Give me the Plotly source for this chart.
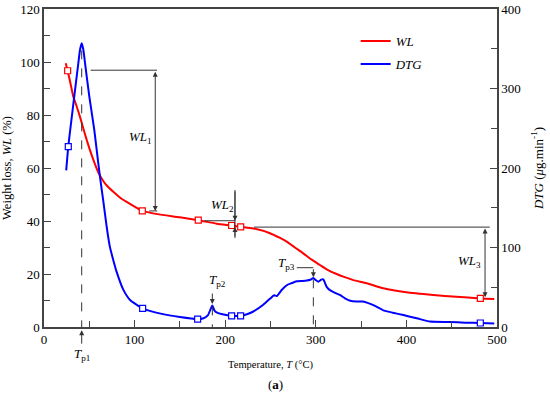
import plotly.graph_objects as go

# ---------------- data ----------------
wl_T = [24, 26.1, 29, 32.3, 36, 40, 45, 50, 55, 60, 65, 70, 76.5, 84, 91.3, 100,
        108.5, 125, 150, 170.3, 190.6, 207.1, 217.1, 231, 249.4, 260, 267.9, 277, 286.2,
        295, 304.6, 313, 323, 332, 341.4, 356.2, 374.5, 400, 429.7, 455, 481.6, 497]
wl_val = [99.5, 96.7, 92.3, 87, 83.3, 79, 73, 67.5, 62.6, 58.3, 55.3, 53.1, 51, 48.8, 47.2, 45.4,
          43.8, 42.6, 41.4, 40.3, 39.0, 38.3, 37.8, 37.2, 35.4, 33.7, 32.2, 30, 27.8,
          25.5, 23.4, 21.6, 20, 18.8, 17.7, 16.5, 14.6, 13.1, 12.1, 11.4, 10.8, 10.6]

dtg_T = [24.5, 26.8, 30, 33.4, 37.9, 39.8, 41.6, 43.4, 45.3, 50.0, 55.5, 59.9, 62.5, 65.5, 69.2,
         72.5, 76.5, 80, 87.5, 95, 108.9, 130, 150, 169.6, 176, 181, 185.8, 188, 191, 197,
         207.1, 217, 224, 231, 242, 251.3, 254, 257, 262.3, 267.9, 273, 278.9, 285, 290, 294,
         297.3, 300, 302.8, 306, 308.3, 312, 316, 321.2, 327, 332.2, 338, 345, 352, 358,
         363.5, 374.5, 385, 396.6, 411.4, 426, 448, 465, 481.6, 497]
dtg_val = [197, 227, 258, 290, 332, 349, 357, 349, 332, 290, 248, 206, 183, 158, 126,
           102, 84, 70, 47, 34, 23.5, 16.5, 12.5, 10, 11, 15, 27, 21, 18, 16,
           14, 14, 16, 19.5, 28, 37.5, 40, 39, 46.5, 52.5, 55, 57.5, 58, 58.5, 59.5,
           61.5, 59, 57, 59.5, 60, 50.5, 46, 43, 40, 36, 33, 32, 32, 30,
           27.5, 21, 18, 15, 11, 6.8, 6.3, 5.5, 5, 4.5]

wl_mark_T = [26.1, 108.5, 170.3, 207.1, 217.1, 481.6]
wl_mark_v = [96.7, 43.8, 40.3, 38.3, 37.8, 10.8]
dtg_mark_T = [26.8, 108.9, 169.6, 207.1, 217, 481.6]
dtg_mark_v = [227, 23.5, 10, 14, 14, 5]

x_ticks = [0, 100, 200, 300, 400, 500]
y_ticks = [0, 20, 40, 60, 80, 100, 120]
y2_ticks = [0, 100, 200, 300, 400]

RED = "#ff0000"
BLUE = "#0000ff"
AX = "#444444"
FONT = "Liberation Serif"

fig = go.Figure()
fig.add_trace(go.Scatter(x=wl_T, y=wl_val, mode="lines", name="<i>WL</i>", legendgroup="a",
                         line=dict(color=RED, width=2, shape="spline", smoothing=0.6)))
fig.add_trace(go.Scatter(x=dtg_T, y=dtg_val, mode="lines", name="<i>DTG</i>", yaxis="y2",
                         legendgroup="b",
                         line=dict(color=BLUE, width=2, shape="spline", smoothing=0.5)))
fig.add_trace(go.Scatter(x=wl_mark_T, y=wl_mark_v, mode="markers", showlegend=False,
                         marker=dict(symbol="square", size=6, color="white",
                                     line=dict(color=RED, width=1.2))))
fig.add_trace(go.Scatter(x=dtg_mark_T, y=dtg_mark_v, mode="markers", showlegend=False, yaxis="y2",
                         marker=dict(symbol="square", size=6, color="white",
                                     line=dict(color=BLUE, width=1.2))))

shapes = []
def seg(x0, y0, x1, y1, yref="y", dash="solid"):
    shapes.append(dict(type="line", xref="x", yref=yref, x0=x0, y0=y0, x1=x1, y1=y1,
                       line=dict(color="#333333", width=1, dash=dash)))

# Tp1 dashed
seg(41.6, 348, 41.6, 0, "y2", "dash")
# WL1
seg(51.5, 96.9, 124.7, 96.9)
seg(116, 43.8, 125, 43.8)
# WL2
seg(177, 40.1, 211, 40.1)
seg(210.8, 51.7, 210.8, 33.6)
# WL3
seg(231.8, 37.7, 492, 37.7)
# Tp2
seg(185.8, 26, 185.8, 0, "y2", "dash")
# Tp3
seg(279, 74.6, 297.3, 74.6, "y2")
seg(297.3, 60, 297.3, 0, "y2", "dash")

ann = []
def arrow(x, y, ax, ay, yref="y", both=False):
    d = dict(x=x, y=y, ax=ax, ay=ay, xref="x", yref=yref, axref="x", ayref=yref,
             text="", showarrow=True, arrowhead=2, arrowsize=1, arrowwidth=1,
             arrowcolor="#333333", standoff=0, startstandoff=0)
    if both:
        d["arrowside"] = "end+start"
        d["startarrowhead"] = 2
        d["startarrowsize"] = 1
    ann.append(d)

def label(x, y, text, yref="y", xref="x", size=13):
    ann.append(dict(x=x, y=y, xref=xref, yref=yref, text=text, showarrow=False,
                    font=dict(family=FONT, size=size, color="black"),
                    xanchor="center", yanchor="middle"))

arrow(122.8, 43.8, 122.8, 96.9, both=True)
arrow(210.8, 40.1, 210.8, 51.7)
arrow(210.8, 37.7, 210.8, 33.6)
arrow(486.8, 11.2, 486.8, 37.7, both=True)
arrow(185.8, 29, 185.8, 44, "y2")
arrow(297.3, 62.5, 297.3, 74.6, "y2")
# Tp1 arrow below axis
ann.append(dict(x=41.6, y=-0.01, xref="x", yref="paper", ax=0, ay=15, axref="pixel",
                ayref="pixel", text="", showarrow=True, arrowhead=2, arrowsize=1,
                arrowwidth=1, arrowcolor="#333333", standoff=0))

label(107, 71.7, "<i>WL</i><sub>1</sub>")
label(196.5, 46, "<i>WL</i><sub>2</sub>")
label(470, 24.6, "<i>WL</i><sub>3</sub>")
label(192, 59, "<i>T</i><sub>p2</sub>", "y2")
label(268, 80, "<i>T</i><sub>p3</sub>", "y2")
label(41.6, -0.088, "<i>T</i><sub>p1</sub>", "paper")
ann.append(dict(x=0.51, y=-0.18, xref="paper", yref="paper", text="(<b>a</b>)",
                showarrow=False, font=dict(family=FONT, size=13, color="black"),
                xanchor="center", yanchor="middle"))

tickfont = dict(family=FONT, size=13, color="black")
fig.update_layout(
    width=550, height=396,
    margin=dict(l=44, r=53, t=9, b=69, autoexpand=False),
    paper_bgcolor="white", plot_bgcolor="white",
    font=dict(family=FONT, size=13, color="black"),
    shapes=shapes, annotations=ann,
    legend=dict(x=0.688, y=0.946, xanchor="left", yanchor="top",
                bgcolor="rgba(0,0,0,0)", font=dict(family=FONT, size=13),
                itemwidth=30, traceorder="grouped", tracegroupgap=3),
    xaxis=dict(range=[0, 500], tickvals=x_ticks, ticks="inside", ticklen=7, tickwidth=1.3,
               tickcolor=AX, showline=True, linecolor=AX, linewidth=1.5, mirror=True,
               showgrid=False, zeroline=False, tickfont=tickfont, automargin=False,
               minor=dict(ticks="inside", dtick=50, ticklen=6, tickwidth=1.3, tickcolor=AX),
               title=dict(text="Temperature, <i>T</i> (°C)", font=dict(family=FONT, size=10.5),
                          standoff=14)),
    yaxis=dict(range=[0, 120], tickvals=y_ticks, ticks="inside", ticklen=7, tickwidth=1.3,
               tickcolor=AX, showline=True, linecolor=AX, linewidth=1.5,
               showgrid=False, zeroline=False, tickfont=tickfont, automargin=False,
               minor=dict(ticks="inside", dtick=10, ticklen=6, tickwidth=1.3, tickcolor=AX),
               title=dict(text="Weight loss, <i>WL</i> (%)", font=dict(family=FONT, size=12.5),
                          standoff=6)),
    yaxis2=dict(range=[0, 400], tickvals=y2_ticks, ticks="inside", ticklen=7, tickwidth=1.3,
                tickcolor=AX, showline=True, linecolor=AX, linewidth=1.5,
                overlaying="y", side="right", automargin=False,
                showgrid=False, zeroline=False, tickfont=tickfont,
                minor=dict(ticks="inside", dtick=50, ticklen=6, tickwidth=1.3, tickcolor=AX),
                title=dict(text="<i>DTG</i> (<i>μ</i>g.min<sup>-1</sup>)",
                           font=dict(family=FONT, size=13), standoff=14)),
)

fig.write_html("out.html", config={"displayModeBar": False},
               post_script="document.body.style.margin='0px';")
